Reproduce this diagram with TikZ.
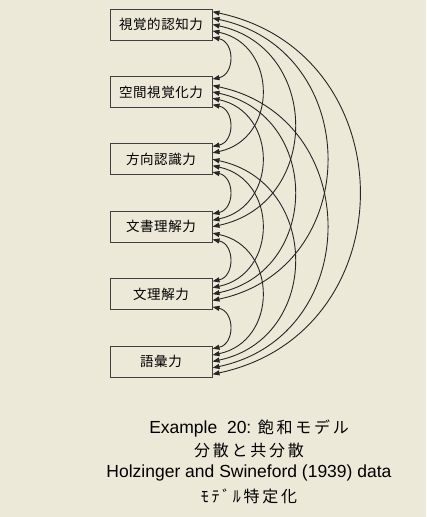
\documentclass[tikz,border=0pt]{standalone}
\usepackage{fontspec}
\setmainfont{Liberation Sans}
\newfontfamily\jp[LetterSpace=4]{Noto Sans CJK JP}
\newfontfamily\jpw[LetterSpace=17]{Noto Sans CJK JP}
\usepackage{xcolor}
\usetikzlibrary{arrows.meta,calc}
\definecolor{bg}{HTML}{ECE9D8}
\newcommand{\jb}[1]{{\jpw\fontsize{16}{18}\selectfont #1}}

\begin{document}
\begin{tikzpicture}[x=1pt,y=-1pt,
  n/.style={draw=black!75,line width=1pt,minimum width=102pt,minimum height=31pt,inner sep=0pt,font=\jp\fontsize{13.5}{15}\selectfont},
  cv/.style={{Triangle[length=7pt,width=5pt]}-{Triangle[length=7pt,width=5pt]},line width=0.9pt,black!85},
  lb/.style={font=\fontsize{17.5}{20}\selectfont,inner sep=0pt}]
\fill[bg] (0,0) rectangle (426,517);
\useasboundingbox (0,0) rectangle (426,517);
% observed variables
\foreach \lab [count=\i] in {視覚的認知力,空間視覚化力,方向認識力,文書理解力,文理解力,語彙力} {
  \node[n] (v\i) at (161,{24.5+67.4*(\i-1)}) {\lab};
  \foreach \p in {1,...,5}
    \coordinate (v\i-\p) at ($(v\i.north east)!{(2*\p-1)/10}!(v\i.south east)$);
}
% covariances
\foreach \i in {1,...,5} {
  \pgfmathtruncatemacro\k{\i+1}
  \foreach \j in {\k,...,6} {
    \pgfmathtruncatemacro\a{6-\j+\i}
    \pgfmathtruncatemacro\b{\j-\i}
    \draw[cv] (v\i-\a) to[bend left=78,looseness=1.41] (v\j-\b);
  }
}
\node[lb] (l1) at (249,428) {Example\ \ 20: \jb{飽和モデル}};
\node[lb] (l2) at (249,450) {\jb{分散と共分散}};
\node[lb] (l3) at (249,473) {Holzinger and Swineford (1939) data};
\node[lb] (l4) at (249,496) {\jb{ﾓﾃﾞﾙ特定化}};
\end{tikzpicture}
\end{document}
